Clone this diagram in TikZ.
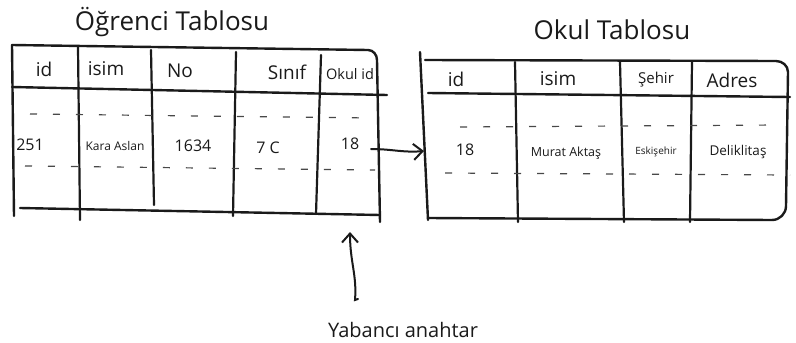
\documentclass[tikz,border=0pt]{standalone}
\usepackage{fontspec}
\setmainfont{Open Sans}
\usetikzlibrary{arrows.meta}
\definecolor{ink}{HTML}{1A1A1A}
\tikzset{
  frame/.style={draw=ink, line width=2.4pt, line cap=round, line join=round},
  colline/.style={draw=ink, line width=2.2pt, line cap=round},
  rowdash/.style={draw=ink!80, line width=1.2pt, dash pattern=on 7pt off 16pt},
  title/.style={font=\fontsize{26}{30}\selectfont, text=ink},
  head/.style={font=\fontsize{19}{22}\selectfont, text=ink},
  cell/.style={font=\fontsize{16}{19}\selectfont, text=ink},
  small/.style={font=\fontsize{12}{14}\selectfont, text=ink},
  link/.style={draw=ink, line width=2pt, line cap=round, -{Straight Barb[length=9pt,width=16pt,line width=2pt]}}
}
\begin{document}
\begin{tikzpicture}[x=1pt,y=-1pt]
\useasboundingbox (0,0) rectangle (796,343);

% ---------- student table ----------
\node[title] (t1) at (172,22) {Öğrenci Tablosu};
\draw[frame] (12,45) -- (14,216);
\draw[frame] (12,45) -- (368,50) to[out=0,in=90] (377,60) -- (380,222);
\draw[frame] (20,208) -- (380,215);
\draw[frame] (12,87) -- (387,95);
\draw[colline] (78,47) -- (80,220);
\draw[colline] (151,50) -- (154,205);
\draw[colline] (236,52) -- (233,216);
\draw[colline] (321,55) -- (316,214);
\draw[rowdash] (30,114) -- (370,118);
\draw[rowdash] (25,166) -- (375,170);

\node[head] (h1) at (44,69) {id};
\node[head] (h2) at (106,69) {isim};
\node[head] (h3) at (180,71) {No};
\node[head] (h4) at (287,72) {Sınıf};
\node[font=\fontsize{14.5}{17}\selectfont, text=ink] (h5) at (350,74) {Okul id};
\node[cell] (d1) at (30,145) {251};
\node[small] (d2) at (115,146) {Kara Aslan};
\node[cell] (d3) at (193,146) {1634};
\node[cell] (d4) at (268,148) {7 C};
\node[cell] (d5) at (350,144) {18};

% ---------- school table ----------
\node[title] (t2) at (612,30) {Okul Tablosu};
\draw[frame] (420,52) -- (428,220);
\draw[frame] (425,60) -- (776,61) to[out=0,in=90] (788,72) -- (786,206) to[out=-90,in=0] (772,220) -- (428,218);
\draw[frame] (428,93) -- (790,97);
\draw[colline] (515,62) -- (518,222);
\draw[colline] (620,62) -- (624,222);
\draw[colline] (692,62) -- (690,222);
\draw[rowdash] (460,127) -- (780,125);
\draw[rowdash] (445,173) -- (790,175);

\node[head] (r1) at (456,79) {id};
\node[head] (r2) at (558,79) {isim};
\node[font=\fontsize{15}{18}\selectfont, text=ink] (r3) at (656,80) {Şehir};
\node[head] (r4) at (732,80) {Adres};
\node[cell] (e1) at (465,150) {18};
\node[font=\fontsize{12.5}{15}\selectfont, text=ink] (e2) at (566,153) {Murat Aktaş};
\node[font=\fontsize{10}{12}\selectfont, text=ink] (e3) at (656,152) {Eskişehir};
\node[font=\fontsize{13.5}{16}\selectfont, text=ink] (e4) at (738,152) {Deliklitaş};

% ---------- links ----------
\coordinate (src) at (371,149);
\coordinate (dst) at (424,151);
\draw[link] (src) to[out=0,in=185] (dst);

\node[font=\fontsize{20}{24}\selectfont, text=ink] (fk) at (403,330) {Yabancı anahtar};
\coordinate (fkbase) at (358,299);
\coordinate (fktip) at (350,232);
\draw[link] (fkbase) -- ++(-3,1) .. controls (357,275) and (350,262) .. (fktip);
\end{tikzpicture}
\end{document}
